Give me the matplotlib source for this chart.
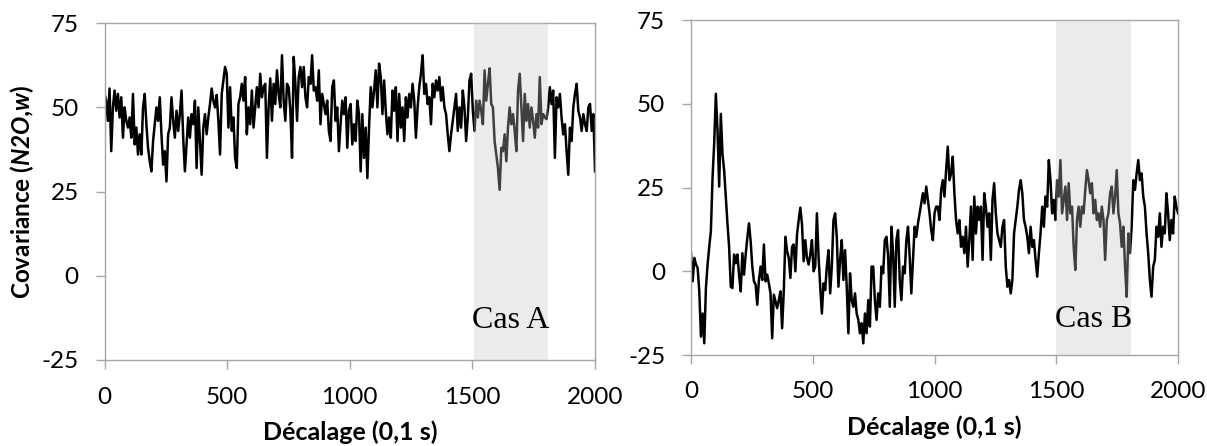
import numpy as np
import matplotlib
matplotlib.use("Agg")
import matplotlib.pyplot as plt
from matplotlib import font_manager as fm

plt.rcParams['font.family'] = ['Lato', 'DejaVu Sans']
plt.rcParams['axes.unicode_minus'] = False

# pick a sans family that really has a bold italic face for the "N2O,w" part
bold_italic = {f.name for f in fm.fontManager.ttflist
               if f.style in ('italic', 'oblique') and f.weight in (700, 'bold')}
ital_family = 'DejaVu Sans'
for name in ['Lato', 'Open Sans', 'Noto Sans', 'Liberation Sans', 'Roboto']:
    if name in bold_italic:
        ital_family = name
        break
plt.rcParams['mathtext.fontset'] = 'custom'
plt.rcParams['mathtext.bfit'] = ital_family + ':italic:bold'

# covariance, lag 0 -> 2000 (0,1 s units)
cov_a = [54, 52, 46, 55.6, 37, 50, 55, 49, 54, 47, 53, 41, 50, 46, 44, 47, 41, 54, 39, 44,
         36, 42, 36, 50, 54, 45, 38, 34, 31, 40, 45, 50, 46, 53, 42, 33, 37, 28, 42, 44,
         53, 46, 41, 49, 43, 48, 55, 41, 31, 39, 47, 41, 48, 45, 52, 32, 50, 40, 30, 44,
         48, 42, 47, 51, 55.6, 52, 50, 53.7, 46, 36, 54, 58, 62, 60, 44,
         # 500 -> 1000
         56, 43, 47, 35, 32, 51, 53, 57, 52, 59, 42, 50, 45, 55, 44, 50, 56, 50, 60, 53,
         56, 57, 35, 50, 58.6, 46, 57, 51, 61, 54, 50, 65.5, 52, 46, 57, 56, 49, 35, 65,
         57, 46, 59, 62, 56, 62, 53, 50, 59, 57, 65.5, 55, 56, 52, 61, 45, 54, 51, 48, 52,
         43, 40, 56, 58, 46, 50, 37, 45, 52, 48, 53, 38, 49, 51, 39,
         # 1000 -> 1500
         45, 40, 52, 48, 31, 48, 35, 44, 29, 44, 56, 50, 55, 61, 50, 63, 59, 48, 58, 49,
         42, 47, 41, 55, 49, 56, 40, 54, 44, 50, 40, 53, 47, 54, 50, 57, 52, 41, 50, 56,
         60, 65.5, 54, 57, 51, 53, 45, 57, 53, 58, 55, 59, 52, 56, 50, 48, 42, 37, 42, 46,
         50, 54, 43, 50, 44, 55, 50, 40, 47, 58, 60, 49, 43, 52, 47,
         # 1500 -> 2000
         52, 49, 45, 61, 52, 57, 61.6, 51, 50, 40, 36, 32, 25.5, 38, 37, 42, 34, 44, 50, 45,
         48, 43, 37, 55, 60, 50, 40, 54, 46, 51, 44, 50, 46, 41, 48, 44, 59, 45, 48, 47,
         46.5, 50, 56, 51, 55, 35, 53, 50, 54, 47, 42, 45, 37, 30, 44, 40, 50, 54, 57, 49,
         47, 43, 48, 45, 43, 50, 51, 43, 48, 31]

cov_b = [5.4, -3, 4, 2, 1, -6, -19.5, -12.6, -21.5, -5, 2, 7.3, 12, 28, 38.2, 53, 42, 25.3, 47, 35,
         30.2, 22, 14.3, 7.3, -4.6, -5, 5, 2.4, 5, -1, -6, 5.4, -1, 5, 10, 14.3, 9, 1.4, -3, -4,
         -10, -2.6, 1.4, -2.6, 8, -3, -1, -3.6, -6.6, -20, -7, -9, -11, -8.6, -6, -17, -6, 10.3, 6, 4,
         -2, 7.3, 8, 0, 11, 15.3, 19, 14, 3, 9.3, 4, 2, 5, 9.3, 0,
         # 500 -> 1000
         1.4, 17.3, 4.4, -4.6, -12.6, -3.6, -5.6, 1.4, 6.3, -6.6, 1.4, 15.3, 17.3, 10.3, -4.6, 3.4, 9.3, -2.6, 6.3, -4.6,
         -18.5, -0.6, -8.6, -10.6, -6.6, -12.6, -14.5, -18.5, -15.5, -21.5, -12.6, -18.5, -8.6, -16.5, 1.4, 1.4, -8.6, -14.5, -6.6, -10.6,
         1.4, -0.6, 9.3, 10.3, 4.4, -10.6, 13.3, 5.4, -10.6, 9.3, 12.3, -2.6, -8.6, 1.4, -0.6, 9.3, 13.3, 4.4, -6.6, 3.4,
         13.3, 10.3, 14.3, 17.3, 20.3, 23.3, 20.3, 25.3, 21.3, 17.3, 12.3, 9.3, 17.3, 19.3,
         # 1000 -> 1500
         19.3, 15.3, 24.3, 27.2, 22.3, 30.2, 37.2, 27.2, 29.2, 34.2, 23.3, 15.3, 11.3, 15.3, 7.3, 10.3, 5.4, 13.3, 1.4, 9.3,
         19.3, 3.4, 22.3, 11.3, 19.3, 15.3, 19.3, 3.4, 23.3, 19.3, 13.3, 17.3, 3.4, 21.3, 26.3, 17.3, 11.3, 9.3, 7.3, 13.3,
         15.3, 1.4, -4.6, -2.6, -6.6, -2.6, 11.3, 15.3, 19.3, 24.3, 27.2, 23.3, 15.3, 13.3, 10.3, 5.4, 13.3, 7.3, 9.3, 3.4,
         -1.6, 5.4, 11.3, 19.3, 13.3, 22.3, 19.3, 33.2, 27.2, 17.3, 21.3, 15.3, 27.2, 22.3,
         # 1500 -> 2000
         33.2, 17.3, 21.3, 25.3, 15.3, 26.3, 17.3, 19.3, 7.3, 0.4, 15.3, 19.3, 13.3, 19.3, 17.3, 24.3, 30.2, 27.2, 23.3, 26.3,
         17.3, 21.3, 15.3, 17.3, 13.3, 19.3, 15.3, 3.4, 15.3, 17.3, 23.3, 25.3, 17.3, 22.3, 30.2, 17.3, 14.3, 7.3, 13.3, 1.4,
         -7.6, 11.3, 5.4, 13.3, 27.2, 24.3, 29.2, 33.2, 27.2, 29.2, 22.3, 19.3, 11.3, 5.4, -2.6, -7.6, 1.4, 3.4, 13.3, 10.3,
         17.3, 7.3, 13.3, 11.3, 23.3, 17.3, 9.3, 15.3, 11.3, 22.3, 19.3, 17.3]

x_ticks = [0, 500, 1000, 1500, 2000]
y_ticks = [-25, 0, 25, 50, 75]
span_a = (1505, 1810)
span_b = (1500, 1805)

fig = plt.figure(figsize=(12.07, 4.46), dpi=100)
ax1 = fig.add_axes([0.0866, 0.193, 0.4064, 0.755])
ax2 = fig.add_axes([0.5725, 0.204, 0.4035, 0.751])

panels = [(ax1, cov_a, span_a, 'Cas A', -15.5, 13), (ax2, cov_b, span_b, 'Cas B', -16.5, 12)]
for ax, cov, span, label, ylab, ypad in panels:
    lag = np.linspace(0, 2000, len(cov))
    ax.plot(lag, cov, color='black', lw=1.8, zorder=2)
    ax.axvspan(span[0], span[1], color='#c4c4c4', alpha=0.33, lw=0, zorder=3)
    ax.text((span[0] + span[1]) / 2, ylab, label, family='Liberation Serif',
            fontsize=23, ha='center', va='baseline', zorder=4)
    ax.set_xlim(0, 2000)
    ax.set_ylim(-25, 75)
    ax.set_xticks(x_ticks)
    ax.set_yticks(y_ticks)
    for s in ax.spines.values():
        s.set_color('#a6a6a6')
        s.set_linewidth(1)
    ax.tick_params(direction='out', length=6.5, width=1, color='#a6a6a6',
                   labelsize=17.5, labelcolor='black')
    ax.tick_params(axis='x', pad=ypad)
    ax.tick_params(axis='y', pad=12)
    ax.set_xlabel('Décalage (0,1 s)', fontsize=18, fontweight='bold')
    ax.xaxis.set_label_coords(0.5, -0.18)

ax1.set_ylabel(r'Covariance ($\mathbfit{N2O{,}w}$)', fontsize=17.5, fontweight='bold')
ax1.yaxis.set_label_coords(-0.14, 0.5)

fig.savefig('out.png', dpi=100)
